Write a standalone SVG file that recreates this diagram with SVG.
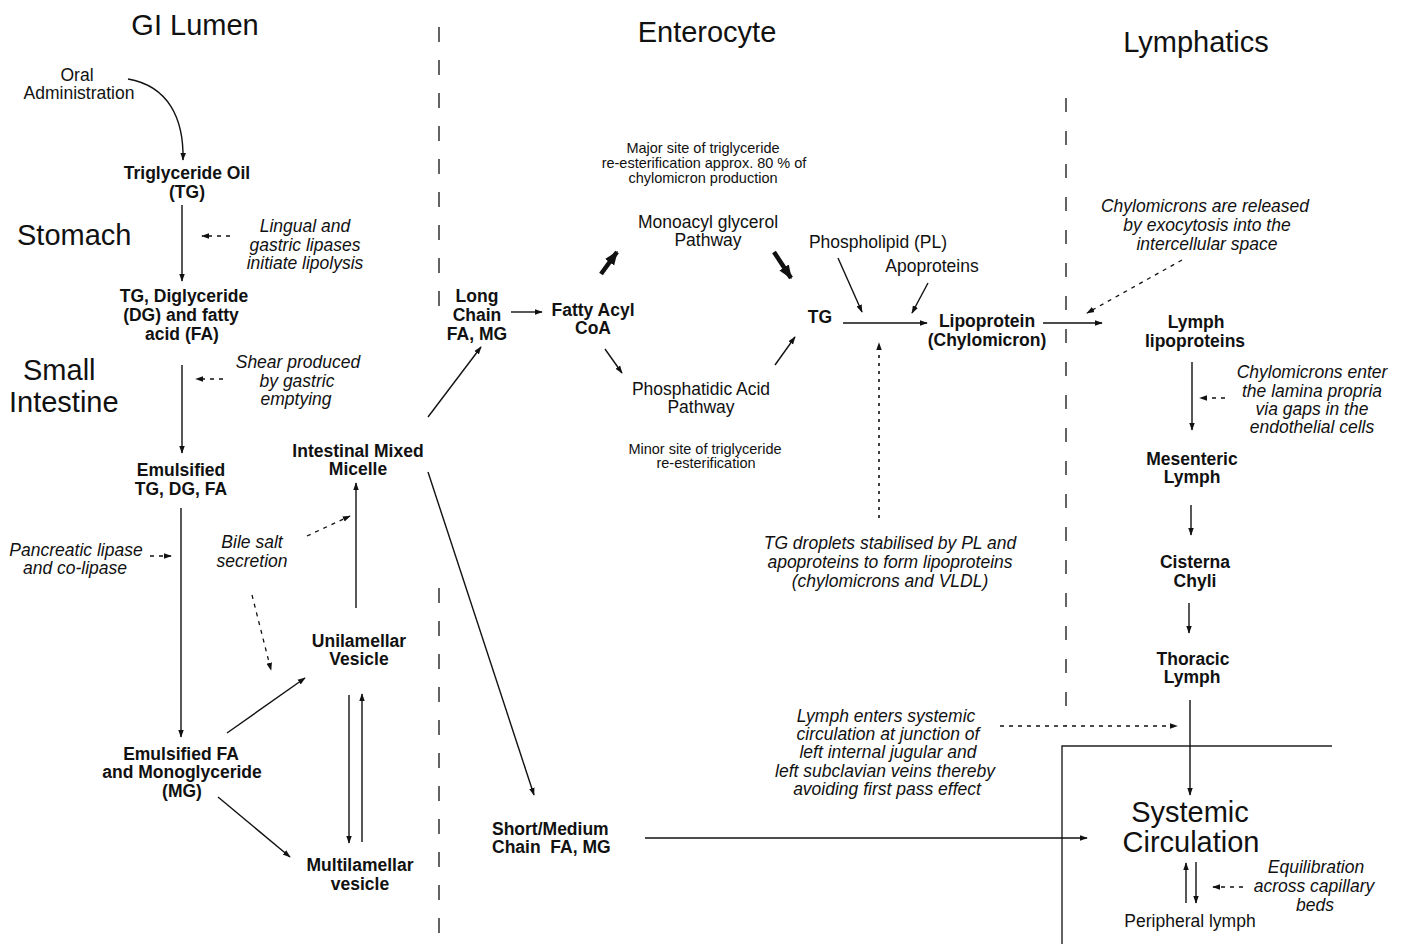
<svg xmlns="http://www.w3.org/2000/svg" width="1405" height="944" viewBox="0 0 1405 944">
<style>
text{font-family:"Liberation Sans",Arial,Helvetica,sans-serif;fill:#111}
.t{font-size:29px}
.b{font-size:17.5px;font-weight:bold;text-anchor:middle}
.r{font-size:17.5px;text-anchor:middle}
.i{font-size:17.5px;font-style:italic;text-anchor:middle}
.s{font-size:14.5px;text-anchor:middle}
.m{text-anchor:middle}
.c{fill:none;stroke:#111;stroke-width:1.4}
.d{fill:none;stroke:#111;stroke-width:1.3;stroke-dasharray:4 5}
.dt{fill:none;stroke:#111;stroke-width:1.6;stroke-dasharray:3 5}
.k{fill:none;stroke:#111;stroke-width:4.5}
.reg{fill:none;stroke:#222;stroke-width:1.4}
</style>
<defs>
<marker id="ah" viewBox="0 0 10 10" refX="9" refY="5" markerWidth="8" markerHeight="8" markerUnits="userSpaceOnUse" orient="auto"><path d="M0,1.5 L10,5 L0,8.5 z" fill="#111"/></marker>
<marker id="ahk" viewBox="0 0 10 10" refX="9" refY="5" markerWidth="14" markerHeight="14" markerUnits="userSpaceOnUse" orient="auto"><path d="M0,1 L10,5 L0,9 z" fill="#111"/></marker>
</defs>
<rect width="1405" height="944" fill="#fff"/>

<g id="regions">
<path class="reg" d="M439,27 V313 M439,588 V944" stroke-dasharray="15 18"/>
<path class="reg" d="M1066,98 V726" stroke-dasharray="14 19"/>
<path class="reg" d="M1062,944 V746 H1332"/>
</g>

<g id="titles">
<text class="t m" x="195" y="35">GI Lumen</text>
<text class="t m" x="707" y="42">Enterocyte</text>
<text class="t m" x="1196" y="52">Lymphatics</text>
<text class="t" x="17" y="245">Stomach</text>
<text class="t" x="23" y="380">Small</text>
<text class="t" x="9" y="412">Intestine</text>
</g>

<g id="connectors">
<path class="c" d="M128,79 C168,86 184,118 183,160" marker-end="url(#ah)"/>
<path class="c" d="M182,205 V281" marker-end="url(#ah)"/>
<path class="c" d="M182,365 V453" marker-end="url(#ah)"/>
<path class="c" d="M181,508 V737" marker-end="url(#ah)"/>
<path class="c" d="M227,733 L305,678" marker-end="url(#ah)"/>
<path class="c" d="M218,797 L290,857" marker-end="url(#ah)"/>
<path class="c" d="M356,608 V483" marker-end="url(#ah)"/>
<path class="c" d="M349,695 V843" marker-end="url(#ah)"/>
<path class="c" d="M362,842 V694" marker-end="url(#ah)"/>
<path class="c" d="M428,417 L481,347" marker-end="url(#ah)"/>
<path class="c" d="M428,472 L534,795" marker-end="url(#ah)"/>
<path class="c" d="M511,312 H542" marker-end="url(#ah)"/>
<path class="k" d="M601,274 L617,252" marker-end="url(#ahk)"/>
<path class="k" d="M774,252 L791,278" marker-end="url(#ahk)"/>
<path class="c" d="M605,349 L622,373" marker-end="url(#ah)"/>
<path class="c" d="M775,365 L795,337" marker-end="url(#ah)"/>
<path class="c" d="M843,323 H927" marker-end="url(#ah)"/>
<path class="c" d="M838,258 L862,312" marker-end="url(#ah)"/>
<path class="c" d="M928,283 L912,313" marker-end="url(#ah)"/>
<path class="c" d="M1043,323 H1102" marker-end="url(#ah)"/>
<path class="c" d="M645,838 H1087" marker-end="url(#ah)"/>
<path class="c" d="M1192,362 V430" marker-end="url(#ah)"/>
<path class="c" d="M1191,505 V535" marker-end="url(#ah)"/>
<path class="c" d="M1189,603 V633" marker-end="url(#ah)"/>
<path class="c" d="M1190,700 V795" marker-end="url(#ah)"/>
<path class="c" d="M1196,862 V903" marker-end="url(#ah)"/>
<path class="c" d="M1186,903 V863" marker-end="url(#ah)"/>
<path class="d" d="M230,236 H202" marker-end="url(#ah)"/>
<path class="d" d="M223,379 H196" marker-end="url(#ah)"/>
<path class="d" d="M150,556 H171" marker-end="url(#ah)"/>
<path class="d" d="M307,536 L350,516" marker-end="url(#ah)"/>
<path class="d" d="M252,595 L271,670" marker-end="url(#ah)"/>
<path class="d" d="M1182,260 L1087,313" marker-end="url(#ah)"/>
<path class="d" d="M1225,398 H1200" marker-end="url(#ah)"/>
<path class="d" d="M1000,726 H1177" marker-end="url(#ah)"/>
<path class="d" d="M1243,887 H1213" marker-end="url(#ah)"/>
<path class="dt" d="M879,518 V343" marker-end="url(#ah)"/>
</g>

<g id="oral"><text class="r" x="77" y="81">Oral</text><text class="r" x="79" y="99">Administration</text></g>
<g id="tg-oil"><text class="b" x="187" y="179">Triglyceride Oil</text><text class="b" x="187" y="198">(TG)</text></g>
<g id="lingual"><text class="i" x="305" y="232">Lingual and</text><text class="i" x="305" y="251">gastric lipases</text><text class="i" x="305" y="269">initiate lipolysis</text></g>
<g id="tg-dg-fa"><text class="b" x="184" y="302">TG, Diglyceride</text><text class="b" x="181" y="321">(DG) and fatty</text><text class="b" x="182" y="340">acid (FA)</text></g>
<g id="shear"><text class="i" x="298" y="368">Shear produced</text><text class="i" x="297" y="387">by gastric</text><text class="i" x="296" y="405">emptying</text></g>
<g id="emulsified"><text class="b" x="181" y="476">Emulsified</text><text class="b" x="181" y="495">TG, DG, FA</text></g>
<g id="micelle"><text class="b" x="358" y="457">Intestinal Mixed</text><text class="b" x="358" y="475">Micelle</text></g>
<g id="pancreatic"><text class="i" x="76" y="556">Pancreatic lipase</text><text class="i" x="75" y="574">and co-lipase</text></g>
<g id="bile"><text class="i" x="252" y="548">Bile salt</text><text class="i" x="252" y="567">secretion</text></g>
<g id="unilamellar"><text class="b" x="359" y="647">Unilamellar</text><text class="b" x="359" y="665">Vesicle</text></g>
<g id="emulsified-fa"><text class="b" x="181" y="760">Emulsified FA</text><text class="b" x="182" y="778">and Monoglyceride</text><text class="b" x="182" y="797">(MG)</text></g>
<g id="multilamellar"><text class="b" x="360" y="871">Multilamellar</text><text class="b" x="360" y="890">vesicle</text></g>

<g id="long-chain"><text class="b" x="477" y="302">Long</text><text class="b" x="477" y="321">Chain</text><text class="b" x="477" y="340">FA, MG</text></g>
<g id="fatty-acyl"><text class="b" x="593" y="316">Fatty Acyl</text><text class="b" x="593" y="334">CoA</text></g>
<g id="major-site"><text class="s" x="703" y="153">Major site of triglyceride</text><text class="s" x="704" y="168">re-esterification approx. 80 % of</text><text class="s" x="703" y="183">chylomicron production</text></g>
<g id="monoacyl"><text class="r" x="708" y="228">Monoacyl glycerol</text><text class="r" x="708" y="246">Pathway</text></g>
<g id="phosphatidic"><text class="r" x="701" y="395">Phosphatidic Acid</text><text class="r" x="701" y="413">Pathway</text></g>
<g id="minor-site"><text class="s" x="705" y="454">Minor site of triglyceride</text><text class="s" x="706" y="468">re-esterification</text></g>
<g id="tg"><text class="b" x="820" y="323">TG</text></g>
<g id="phospholipid"><text class="r" x="878" y="248">Phospholipid (PL)</text></g>
<g id="apoproteins"><text class="r" x="932" y="272">Apoproteins</text></g>
<g id="lipoprotein"><text class="b" x="987" y="327">Lipoprotein</text><text class="b" x="987" y="346">(Chylomicron)</text></g>
<g id="tg-droplets"><text class="i" x="890" y="549">TG droplets stabilised by PL and</text><text class="i" x="890" y="568">apoproteins to form lipoproteins</text><text class="i" x="890" y="587">(chylomicrons and VLDL)</text></g>
<g id="lymph-enters"><text class="i" x="886" y="722">Lymph enters systemic</text><text class="i" x="888" y="740">circulation at junction of</text><text class="i" x="888" y="758">left internal jugular and</text><text class="i" x="885" y="777">left subclavian veins thereby</text><text class="i" x="887" y="795">avoiding first pass effect</text></g>
<g id="short-medium"><text class="b" x="492" y="835" style="text-anchor:start">Short/Medium</text><text class="b" x="492" y="853" style="text-anchor:start" xml:space="preserve">Chain  FA, MG</text></g>

<g id="released"><text class="i" x="1205" y="212">Chylomicrons are released</text><text class="i" x="1207" y="231">by exocytosis into the</text><text class="i" x="1207" y="250">intercellular space</text></g>
<g id="lymph-lipoproteins"><text class="b" x="1196" y="328">Lymph</text><text class="b" x="1195" y="347">lipoproteins</text></g>
<g id="enter-lamina"><text class="i" x="1312" y="378">Chylomicrons enter</text><text class="i" x="1312" y="397">the lamina propria</text><text class="i" x="1312" y="415">via gaps in the</text><text class="i" x="1312" y="433">endothelial cells</text></g>
<g id="mesenteric"><text class="b" x="1192" y="465">Mesenteric</text><text class="b" x="1192" y="483">Lymph</text></g>
<g id="cisterna"><text class="b" x="1195" y="568">Cisterna</text><text class="b" x="1195" y="587">Chyli</text></g>
<g id="thoracic"><text class="b" x="1193" y="665">Thoracic</text><text class="b" x="1192" y="683">Lymph</text></g>
<g id="systemic"><text class="t m" x="1190" y="822">Systemic</text><text class="t m" x="1191" y="852">Circulation</text></g>
<g id="equilibration"><text class="i" x="1316" y="873">Equilibration</text><text class="i" x="1314" y="892">across capillary</text><text class="i" x="1315" y="911">beds</text></g>
<g id="peripheral"><text class="r" x="1190" y="927">Peripheral lymph</text></g>
</svg>
